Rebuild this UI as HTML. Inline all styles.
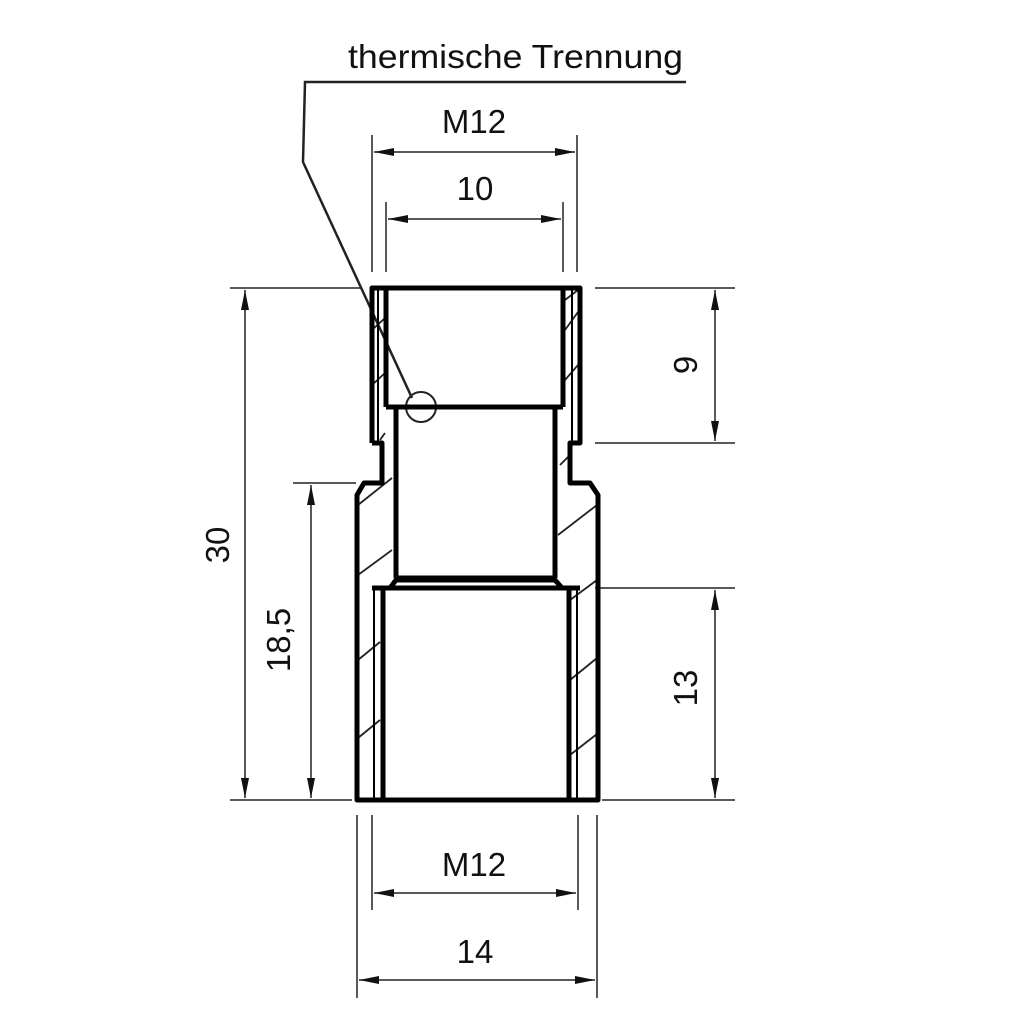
<!DOCTYPE html>
<html><head><meta charset="utf-8"><style>
html,body{margin:0;padding:0;background:#fff}
svg{display:block}
text{font-family:"Liberation Sans",Arial,sans-serif;font-size:33px;fill:#111}
</style></head><body>
<svg width="1024" height="1024" viewBox="0 0 1024 1024" xmlns="http://www.w3.org/2000/svg">
<defs>
<marker id="a" viewBox="0 0 20 8" refX="20" refY="4" markerWidth="20" markerHeight="8" markerUnits="userSpaceOnUse" orient="auto-start-reverse"><path d="M0,0 L20,4 L0,8 z" fill="#111"/></marker>
</defs>
<g stroke="#222" stroke-width="1.5" fill="none">
<polyline points="686,82 305,82 303,162 412,398" stroke-width="2.5"/>
<circle cx="421" cy="407" r="15" stroke-width="2"/>
<line x1="372" y1="135" x2="372" y2="272"/>
<line x1="577" y1="135" x2="577" y2="272"/>
<line x1="386" y1="202" x2="386" y2="272"/>
<line x1="563" y1="202" x2="563" y2="272"/>
<line x1="374" y1="152" x2="575" y2="152" marker-start="url(#a)" marker-end="url(#a)"/>
<line x1="388" y1="219" x2="561" y2="219" marker-start="url(#a)" marker-end="url(#a)"/>
<line x1="230" y1="288" x2="362" y2="288"/>
<line x1="230" y1="800" x2="352" y2="800"/>
<line x1="293" y1="483" x2="356" y2="483"/>
<line x1="245" y1="290" x2="245" y2="798" marker-start="url(#a)" marker-end="url(#a)"/>
<line x1="311" y1="485" x2="311" y2="798" marker-start="url(#a)" marker-end="url(#a)"/>
<line x1="595" y1="288" x2="735" y2="288"/>
<line x1="595" y1="443" x2="735" y2="443"/>
<line x1="595" y1="588" x2="735" y2="588"/>
<line x1="602" y1="800" x2="735" y2="800"/>
<line x1="715" y1="290" x2="715" y2="441" marker-start="url(#a)" marker-end="url(#a)"/>
<line x1="715" y1="590" x2="715" y2="798" marker-start="url(#a)" marker-end="url(#a)"/>
<line x1="357" y1="815" x2="357" y2="998"/>
<line x1="372" y1="815" x2="372" y2="910"/>
<line x1="578" y1="815" x2="578" y2="910"/>
<line x1="597" y1="815" x2="597" y2="998"/>
<line x1="374" y1="893" x2="576" y2="893" marker-start="url(#a)" marker-end="url(#a)"/>
<line x1="359" y1="980" x2="595" y2="980" marker-start="url(#a)" marker-end="url(#a)"/>
<g stroke-width="1.8">
<line x1="372" y1="330" x2="385" y2="318"/>
<line x1="372" y1="385" x2="385" y2="373"/>
<line x1="565" y1="330" x2="578" y2="312"/>
<line x1="565" y1="380" x2="578" y2="365"/>
<line x1="565" y1="300" x2="578" y2="290"/>
<line x1="380" y1="440" x2="385" y2="433"/>
<line x1="560" y1="465" x2="570" y2="455"/>
<line x1="358" y1="505" x2="392" y2="478"/>
<line x1="358" y1="575" x2="392" y2="550"/>
<line x1="558" y1="535" x2="597" y2="505"/>
<line x1="570" y1="600" x2="597" y2="580"/>
<line x1="358" y1="660" x2="380" y2="642"/>
<line x1="358" y1="738" x2="380" y2="720"/>
<line x1="570" y1="680" x2="597" y2="658"/>
<line x1="570" y1="755" x2="597" y2="734"/>
</g>
</g>
<g stroke="#000" fill="none" stroke-width="5" stroke-linejoin="round">
<polyline points="372,443 372,288 580,288 580,443 570,443 570,483 590,483 598,495 598,800 357,800 357,495 364,483 382,483 382,443 372,443"/>
<line x1="386" y1="290" x2="386" y2="407"/>
<line x1="563" y1="290" x2="563" y2="407"/>
<line x1="386" y1="407" x2="563" y2="407"/>
<line x1="396" y1="407" x2="396" y2="578"/>
<line x1="555" y1="407" x2="555" y2="578"/>
<line x1="396" y1="578" x2="555" y2="578"/>
<polyline points="390,588 396,580 555,580 562,588"/>
<line x1="372" y1="588" x2="580" y2="588"/>
<line x1="383" y1="588" x2="383" y2="800"/>
<line x1="569" y1="588" x2="569" y2="800"/>
</g>
<g stroke="#000" stroke-width="2" fill="none">
<line x1="378" y1="290" x2="378" y2="443"/>
<line x1="572" y1="290" x2="572" y2="443"/>
<line x1="374" y1="590" x2="374" y2="800"/>
<line x1="577" y1="590" x2="577" y2="800"/>
</g>
<text x="348" y="68" textLength="335" lengthAdjust="spacingAndGlyphs">thermische Trennung</text>
<text x="474" y="133" text-anchor="middle">M12</text>
<text x="475" y="200" text-anchor="middle">10</text>
<text x="474" y="876" text-anchor="middle">M12</text>
<text x="475" y="963" text-anchor="middle">14</text>
<text transform="translate(229,545) rotate(-90)" text-anchor="middle">30</text>
<text transform="translate(290,640) rotate(-90)" text-anchor="middle">18,5</text>
<text transform="translate(697,365) rotate(-90)" text-anchor="middle">9</text>
<text transform="translate(697,688) rotate(-90)" text-anchor="middle">13</text>
</svg>
</body></html>
